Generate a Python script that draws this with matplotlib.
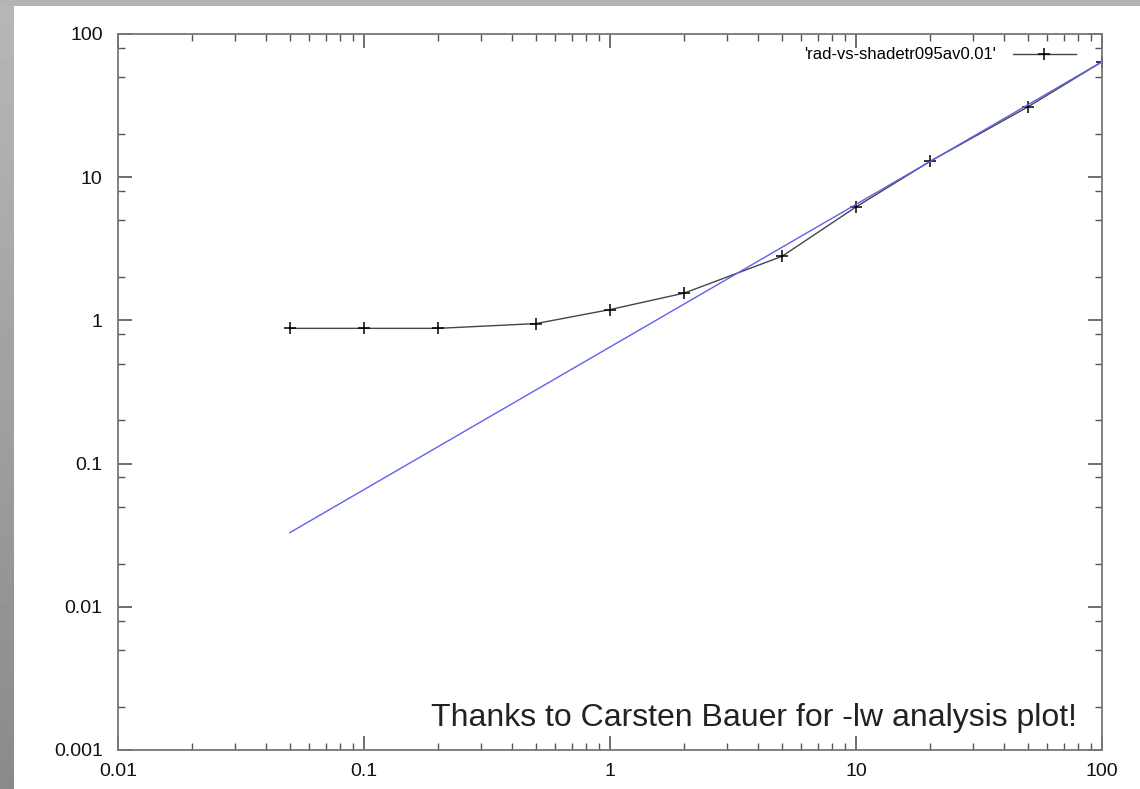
import numpy as np
import matplotlib.pyplot as plt
from matplotlib.ticker import LogLocator, NullFormatter, FixedLocator, FixedFormatter

# measured points (black, with + markers)
rad_x = [0.05, 0.1, 0.2, 0.5, 1, 2, 5, 10, 20, 50, 100]
rad_y = [0.88, 0.88, 0.88, 0.95, 1.19, 1.55, 2.8, 6.2, 12.9, 31.0, 64.0]

# straight fit line (blue)
fit_x = [0.05, 100]
fit_y = [0.033, 64.0]

x_ticks = [0.01, 0.1, 1, 10, 100]
x_labels = ["0.01", "0.1", "1", "10", "100"]
y_ticks = [0.001, 0.01, 0.1, 1, 10, 100]
y_labels = ["0.001", "0.01", "0.1", "1", "10", "100"]

legend_label = "'rad-vs-shadetr095av0.01'"
note = "Thanks to Carsten Bauer for -lw analysis plot!"

plt.rcParams["font.family"] = ["Liberation Sans", "DejaVu Sans"]

W, H = 1140, 789
fig = plt.figure(figsize=(W / 100, H / 100), dpi=100, facecolor="white")

# gray frame strips around the white page
strip = fig.add_axes([0, 0, 14 / W, 1])
grad = np.linspace(0.72, 0.54, 256).reshape(-1, 1)
strip.imshow(grad, cmap="gray", vmin=0, vmax=1, aspect="auto")
strip.axis("off")
top = fig.add_axes([0, 1 - 6 / H, 1, 6 / H])
top.set_facecolor("#b4b4b4")
top.set_xticks([])
top.set_yticks([])
for s in top.spines.values():
    s.set_visible(False)

ax = fig.add_axes([118 / W, 1 - 750 / H, (1102 - 118) / W, (750 - 34) / H])
ax.set_xscale("log")
ax.set_yscale("log")
ax.set_xlim(0.01, 100)
ax.set_ylim(0.001, 100)

ax.plot(rad_x, rad_y, color="#454545", lw=1.0, marker="+", ms=8, mew=1.1,
        mec="black", label=legend_label)
ax.plot(fit_x, fit_y, color="#6060f0", lw=1.0)

ax.xaxis.set_major_locator(FixedLocator(x_ticks))
ax.xaxis.set_major_formatter(FixedFormatter(x_labels))
ax.yaxis.set_major_locator(FixedLocator(y_ticks))
ax.yaxis.set_major_formatter(FixedFormatter(y_labels))
ax.xaxis.set_minor_locator(LogLocator(base=10, subs=np.arange(2, 10)))
ax.yaxis.set_minor_locator(LogLocator(base=10, subs=[2, 5, 8]))
ax.xaxis.set_minor_formatter(NullFormatter())
ax.yaxis.set_minor_formatter(NullFormatter())

ax.tick_params(which="both", direction="in", top=True, right=True,
               color="#555555", labelsize=14, labelcolor="#111111")
ax.tick_params(which="major", length=10, width=1.2)
ax.tick_params(axis="y", which="major", pad=11)
ax.tick_params(axis="x", which="major", pad=9)
ax.tick_params(which="minor", length=5, width=1.0)
for s in ax.spines.values():
    s.set_color("#777777")
    s.set_linewidth(1.3)

ax.legend(loc="center right", bbox_to_anchor=(0.9804, 0.9707), frameon=False,
          fontsize=12, markerfirst=False, handlelength=3.8, handletextpad=1.0,
          borderaxespad=0)

ax.text(0.9746, 0.0335, note, transform=ax.transAxes, ha="right", va="baseline",
        fontsize=23, color="#222222")

fig.savefig("out.png", dpi=100)
